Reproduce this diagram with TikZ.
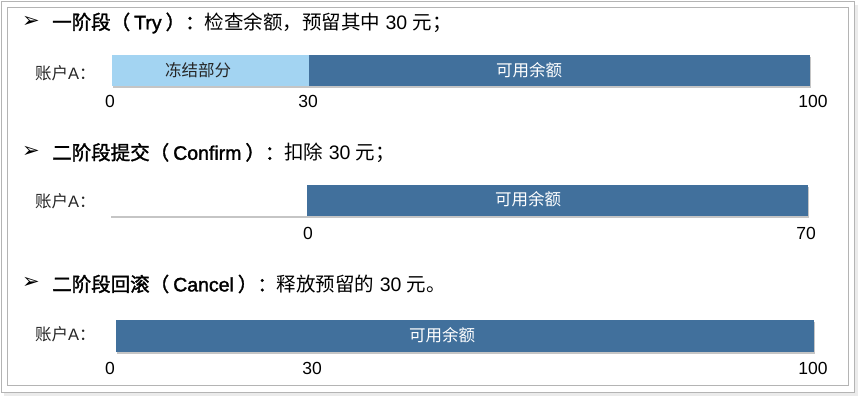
\documentclass[tikz,border=0pt]{standalone}
\usepackage{fontspec}
\setmainfont{Liberation Sans}
\newfontfamily\cjk{Noto Sans CJK SC}
\newfontfamily\cjkmid{Noto Sans CJK SC}[FakeBold=1.6]
\newfontfamily\latmid{Liberation Sans}[FakeBold=1.6]
\newfontfamily\sym{DejaVu Sans}
\usetikzlibrary{shadows}

\definecolor{barblue}{HTML}{41709C}
\definecolor{frozenblue}{HTML}{A3D4F2}
\definecolor{framegray}{HTML}{B4B4B4}
\definecolor{textgray}{HTML}{262626}

\newcommand{\zh}[1]{{\cjk #1}}
\newcommand{\zhb}[1]{{\cjkmid #1}}

\tikzset{
  bar/.style={draw=none, drop shadow={shadow xshift=0.8pt, shadow yshift=-1.8pt, opacity=0.45}},
  bullet/.style={inner sep=0pt, text=black, font=\sym\fontsize{21}{23}\selectfont},
  head/.style={anchor=west, inner sep=0pt, text=black, font=\fontsize{19.5}{21}\selectfont},
  acct/.style={anchor=west, inner sep=0pt, text=textgray, font=\fontsize{16.5}{18}\selectfont},
  tick/.style={inner sep=0pt, text=black, font=\fontsize{17.5}{19}\selectfont},
  inbar/.style={inner sep=0pt, font=\cjk\fontsize{16.5}{18}\selectfont},
}

\begin{document}
\begin{tikzpicture}[x=1pt, y=-1pt]
    \useasboundingbox (0,0) rectangle (861,401);

    % frame
    \fill[black!8] (4,5) rectangle (858,396);
    \draw[framegray, fill=white] (1,1) rectangle (854,392);
    \draw[framegray] (7,7) rectangle (848,385);

    % Try
    \node[bullet] (bulletA) at (31,22) {➢};
    \node[head] (try) at (52,23) {\zhb{一阶段（}\hspace{4pt}{\latmid Try}\hspace{4pt}\zhb{）：}\zh{检查余额，预留其中} 30 \zh{元；}};
    \node[acct] (accA) at (35,73) {\zh{账户}A\zh{：}};
    \draw[bar, fill=frozenblue] (112,55) rectangle (309,86);
    \draw[bar, fill=barblue] (309,55) rectangle (810,86);
    \node[inbar, text=textgray] (frozen) at (198,70) {冻结部分};
    \node[inbar, text=white] (freeA) at (529,70) {可用余额};
    \node[tick] (a0) at (110,101) {0};
    \node[tick] (a30) at (308,101) {30};
    \node[tick] (a100) at (813,101) {100};

    % Confirm
    \node[bullet] (bulletB) at (31,152) {➢};
    \node[head] (confirm) at (52,153) {\zhb{二阶段提交（}\hspace{4pt}{\latmid Confirm}\hspace{4pt}\zhb{）：}\zh{扣除} 30 \zh{元；}};
    \node[acct] (accB) at (35,201) {\zh{账户}A\zh{：}};
    \draw[bar, fill=white] (110,185) rectangle (307,216);
    \draw[bar, fill=barblue] (307,185) rectangle (808,216);
    \node[inbar, text=white] (freeB) at (528,199) {可用余额};
    \node[tick] (b0) at (308,233) {0};
    \node[tick] (b70) at (806,233) {70};

    % Cancel
    \node[bullet] (bulletC) at (31,283) {➢};
    \node[head] (cancel) at (52,284) {\zhb{二阶段回滚（}\hspace{4pt}{\latmid Cancel}\hspace{4pt}\zhb{）：}\zh{释放预留的} 30 \zh{元。}};
    \node[acct] (accC) at (35,334) {\zh{账户}A\zh{：}};
    \draw[bar, fill=barblue] (116,320) rectangle (814,352);
    \node[inbar, text=white] (freeC) at (442,335) {可用余额};
    \node[tick] (c0) at (110,368) {0};
    \node[tick] (c30) at (312,368) {30};
    \node[tick] (c100) at (813,368) {100};
\end{tikzpicture}
\end{document}
